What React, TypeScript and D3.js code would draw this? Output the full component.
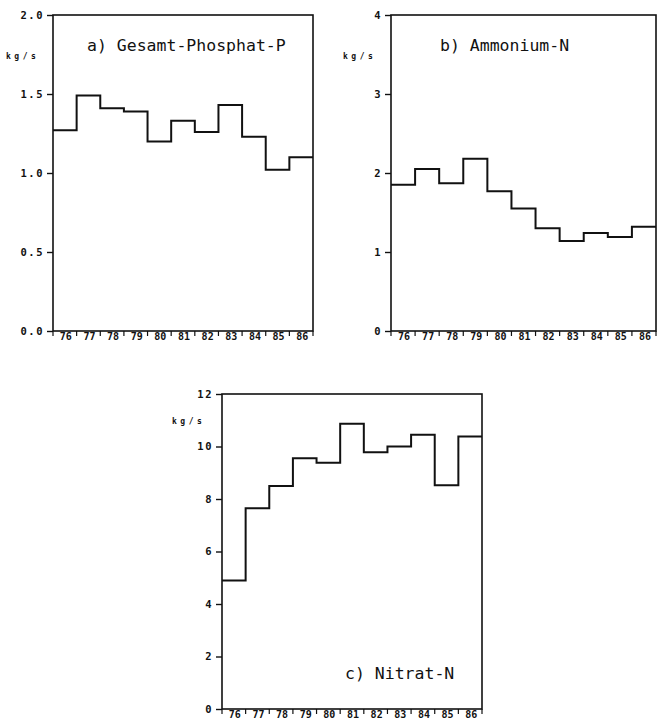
import React from "react";
import * as d3 from "d3";

// -- DATA --
const years = ["76", "77", "78", "79", "80", "81", "82", "83", "84", "85", "86"];
const phosphat = [1.27, 1.49, 1.41, 1.39, 1.2, 1.33, 1.26, 1.43, 1.23, 1.02, 1.1];
const ammonium = [1.85, 2.05, 1.87, 2.18, 1.77, 1.55, 1.3, 1.14, 1.24, 1.19, 1.32];
const nitrat = [4.9, 7.65, 8.5, 9.55, 9.38, 10.87, 9.78, 10.0, 10.45, 8.52, 10.38];
const phosphatTicks = [0, 0.5, 1.0, 1.5, 2.0];
const ammoniumTicks = [0, 1, 2, 3, 4];
const nitratTicks = [0, 2, 4, 6, 8, 10, 12];
const unitLabel = "kg/s";

const App = () => {
  const svgRef = React.useRef(null);

  React.useEffect(() => {
    const svg = d3.select(svgRef.current);
    svg.selectAll("*").remove();

    // panel boxes (px) and their data
    const panels = [
      { title: "a) Gesamt-Phosphat-P", values: phosphat, ticks: phosphatTicks, fmt: ".1f",
        left: 53, right: 313, top: 15, bottom: 331, titleX: 87, titleY: 51, unitX: 6, unitY: 59 },
      { title: "b) Ammonium-N", values: ammonium, ticks: ammoniumTicks, fmt: "d",
        left: 391, right: 656, top: 15, bottom: 331, titleX: 440, titleY: 51, unitX: 343, unitY: 59 },
      { title: "c) Nitrat-N", values: nitrat, ticks: nitratTicks, fmt: "d",
        left: 222, right: 482, top: 394, bottom: 709, titleX: 345, titleY: 679, unitX: 172, unitY: 424 }
    ];

    panels.forEach((p) => {
      const g = svg.append("g");
      const x = d3.scaleLinear().domain([0, years.length]).range([p.left, p.right]);
      const y = d3
        .scaleLinear()
        .domain([0, d3.max(p.ticks)])
        .range([p.bottom, p.top]);

      // frame (left, bottom, top, right)
      g.append("rect")
        .attr("x", p.left)
        .attr("y", p.top)
        .attr("width", p.right - p.left)
        .attr("height", p.bottom - p.top)
        .style("fill", "none")
        .style("stroke", "#111")
        .style("stroke-width", 1.6);

      // y axis
      const yAxis = g
        .append("g")
        .attr("transform", `translate(${p.left},0)`)
        .call(
          d3
            .axisLeft(y)
            .tickValues(p.ticks)
            .tickSize(6)
            .tickPadding(3)
            .tickFormat(d3.format(p.fmt))
        );
      yAxis.select(".domain").remove();
      yAxis.selectAll("line").style("stroke", "#111").style("stroke-width", 1.4);
      yAxis
        .selectAll("text")
        .style("font-family", "'DejaVu Sans Mono', monospace")
        .style("font-weight", "bold")
        .style("font-size", "10.5px")
        .style("letter-spacing", "1.5px")
        .style("fill", "#111");

      // x axis: ticks at year boundaries, labels centred in each year
      g.selectAll("xTicks")
        .data(d3.range(years.length + 1))
        .enter()
        .append("line")
        .attr("x1", (d) => x(d))
        .attr("x2", (d) => x(d))
        .attr("y1", p.bottom)
        .attr("y2", p.bottom + 5)
        .style("stroke", "#111")
        .style("stroke-width", 1.2);
      g.selectAll("xLabels")
        .data(years)
        .enter()
        .append("text")
        .attr("x", (d, i) => x(i + 0.5) + 1)
        .attr("y", p.bottom + 9)
        .attr("text-anchor", "middle")
        .style("font-family", "'DejaVu Sans Mono', monospace")
        .style("font-weight", "bold")
        .style("font-size", "10px")
        .style("fill", "#111")
        .text((d) => d);

      // step line
      const stepData = p.values.map((v, i) => ({ i, v }));
      stepData.push({ i: years.length, v: p.values[p.values.length - 1] });
      g.append("path")
        .datum(stepData)
        .attr(
          "d",
          d3
            .line()
            .x((d) => x(d.i))
            .y((d) => y(d.v))
            .curve(d3.curveStepAfter)
        )
        .style("fill", "none")
        .style("stroke", "#111")
        .style("stroke-width", 2);

      // title and unit
      g.append("text")
        .attr("x", p.titleX)
        .attr("y", p.titleY)
        .style("font-family", "'DejaVu Sans Mono', monospace")
        .style("font-size", "16.5px")
        .style("fill", "#111")
        .text(p.title);
      g.append("text")
        .attr("x", p.unitX)
        .attr("y", p.unitY)
        .style("font-family", "'DejaVu Sans Mono', monospace")
        .style("font-weight", "bold")
        .style("font-size", "8px")
        .style("letter-spacing", "3.5px")
        .style("fill", "#111")
        .text(unitLabel);
    });
  }, []);

  return (
    <svg
      ref={svgRef}
      width={660}
      height={723}
      style={{ position: "absolute", left: 0, top: 0, background: "white" }}
    />
  );
};

export default App;
